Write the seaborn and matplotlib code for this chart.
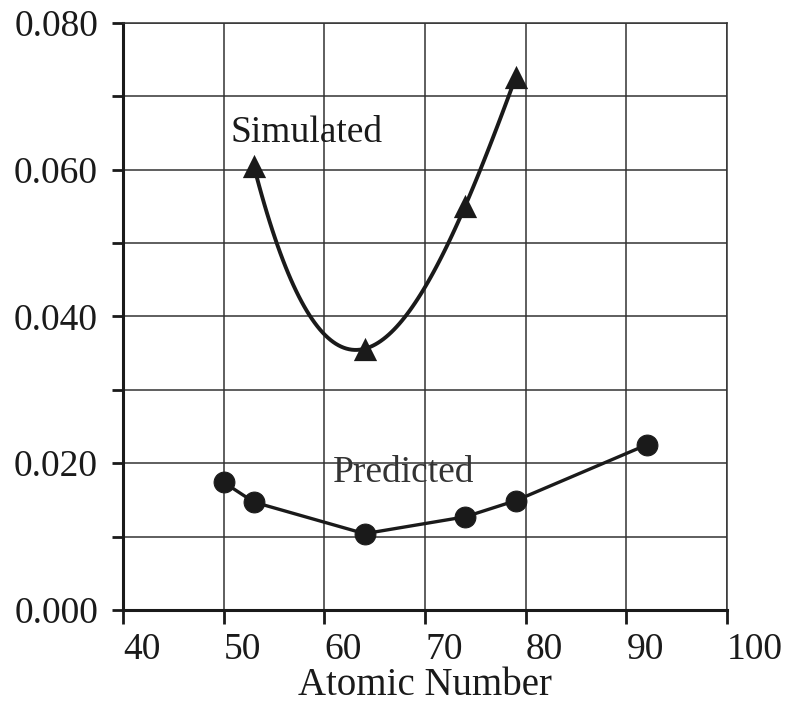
import numpy as np
import pandas as pd
import seaborn as sns
import matplotlib.pyplot as plt
from matplotlib.ticker import MultipleLocator

# data
sim_z = [53, 64, 74, 79]
sim_val = [0.0605, 0.0356, 0.0551, 0.0726]

pred_z = [50, 53, 64, 74, 79, 92]
pred_val = [0.0174, 0.0147, 0.0104, 0.0127, 0.0149, 0.0225]

x_ticks = [40, 50, 60, 70, 80, 90, 100]
y_ticks = [0.000, 0.020, 0.040, 0.060, 0.080]

sim = pd.DataFrame({'z': sim_z, 'val': sim_val})
pred = pd.DataFrame({'z': pred_z, 'val': pred_val})

sns.set_style('white')
plt.rcParams['font.family'] = ['Liberation Serif', 'DejaVu Serif']

fig = plt.figure(figsize=(7.86, 7.03), dpi=100)
ax = fig.add_axes([0.1565, 0.1323, 0.7685, 0.835])

ink = '#1a1a1a'

# smooth curve through the simulated points (cubic through 4 points)
sns.regplot(data=sim, x='z', y='val', order=3, ci=None, scatter=False,
            line_kws={'color': ink, 'lw': 2.8}, ax=ax)
sns.scatterplot(data=sim, x='z', y='val', marker='^', s=280, color=ink,
                edgecolor=ink, linewidth=0, zorder=5, ax=ax)

sns.lineplot(data=pred, x='z', y='val', color=ink, lw=2.4, marker='o',
             markersize=15, markeredgecolor=ink, ax=ax, zorder=4)

ax.text(58.2, 0.0651, 'Simulated', fontsize=27, ha='center', va='center', color=ink)
ax.text(67.9, 0.0187, 'Predicted', fontsize=27, ha='center', va='center', color='#333333')

ax.set_xlim(40, 100)
ax.set_ylim(0, 0.08)
ax.set_xticks(x_ticks)
ax.set_xticklabels([str(t) for t in x_ticks], ha='left')
ax.set_yticks(y_ticks)
ax.set_yticklabels([f'{t:.3f}' for t in y_ticks])
ax.yaxis.set_minor_locator(MultipleLocator(0.01))

ax.grid(True, which='both', color='#333333', lw=1.1)
ax.set_axisbelow(True)

ax.tick_params(axis='x', direction='out', length=10, width=2, color=ink,
               labelsize=27, pad=6, labelcolor=ink)
ax.tick_params(axis='y', which='both', direction='out', length=8, width=2,
               color=ink, labelsize=27, pad=10, labelcolor=ink)
ax.tick_params(axis='both', which='both', bottom=True, left=True)

for side in ['left', 'bottom']:
    ax.spines[side].set_linewidth(2.2)
    ax.spines[side].set_color(ink)
for side in ['top', 'right']:
    ax.spines[side].set_linewidth(1.1)
    ax.spines[side].set_color('#333333')

ax.set_xlabel('Atomic Number', fontsize=28, labelpad=0, color=ink)
ax.set_ylabel('')

fig.savefig('out.png', dpi=100)
